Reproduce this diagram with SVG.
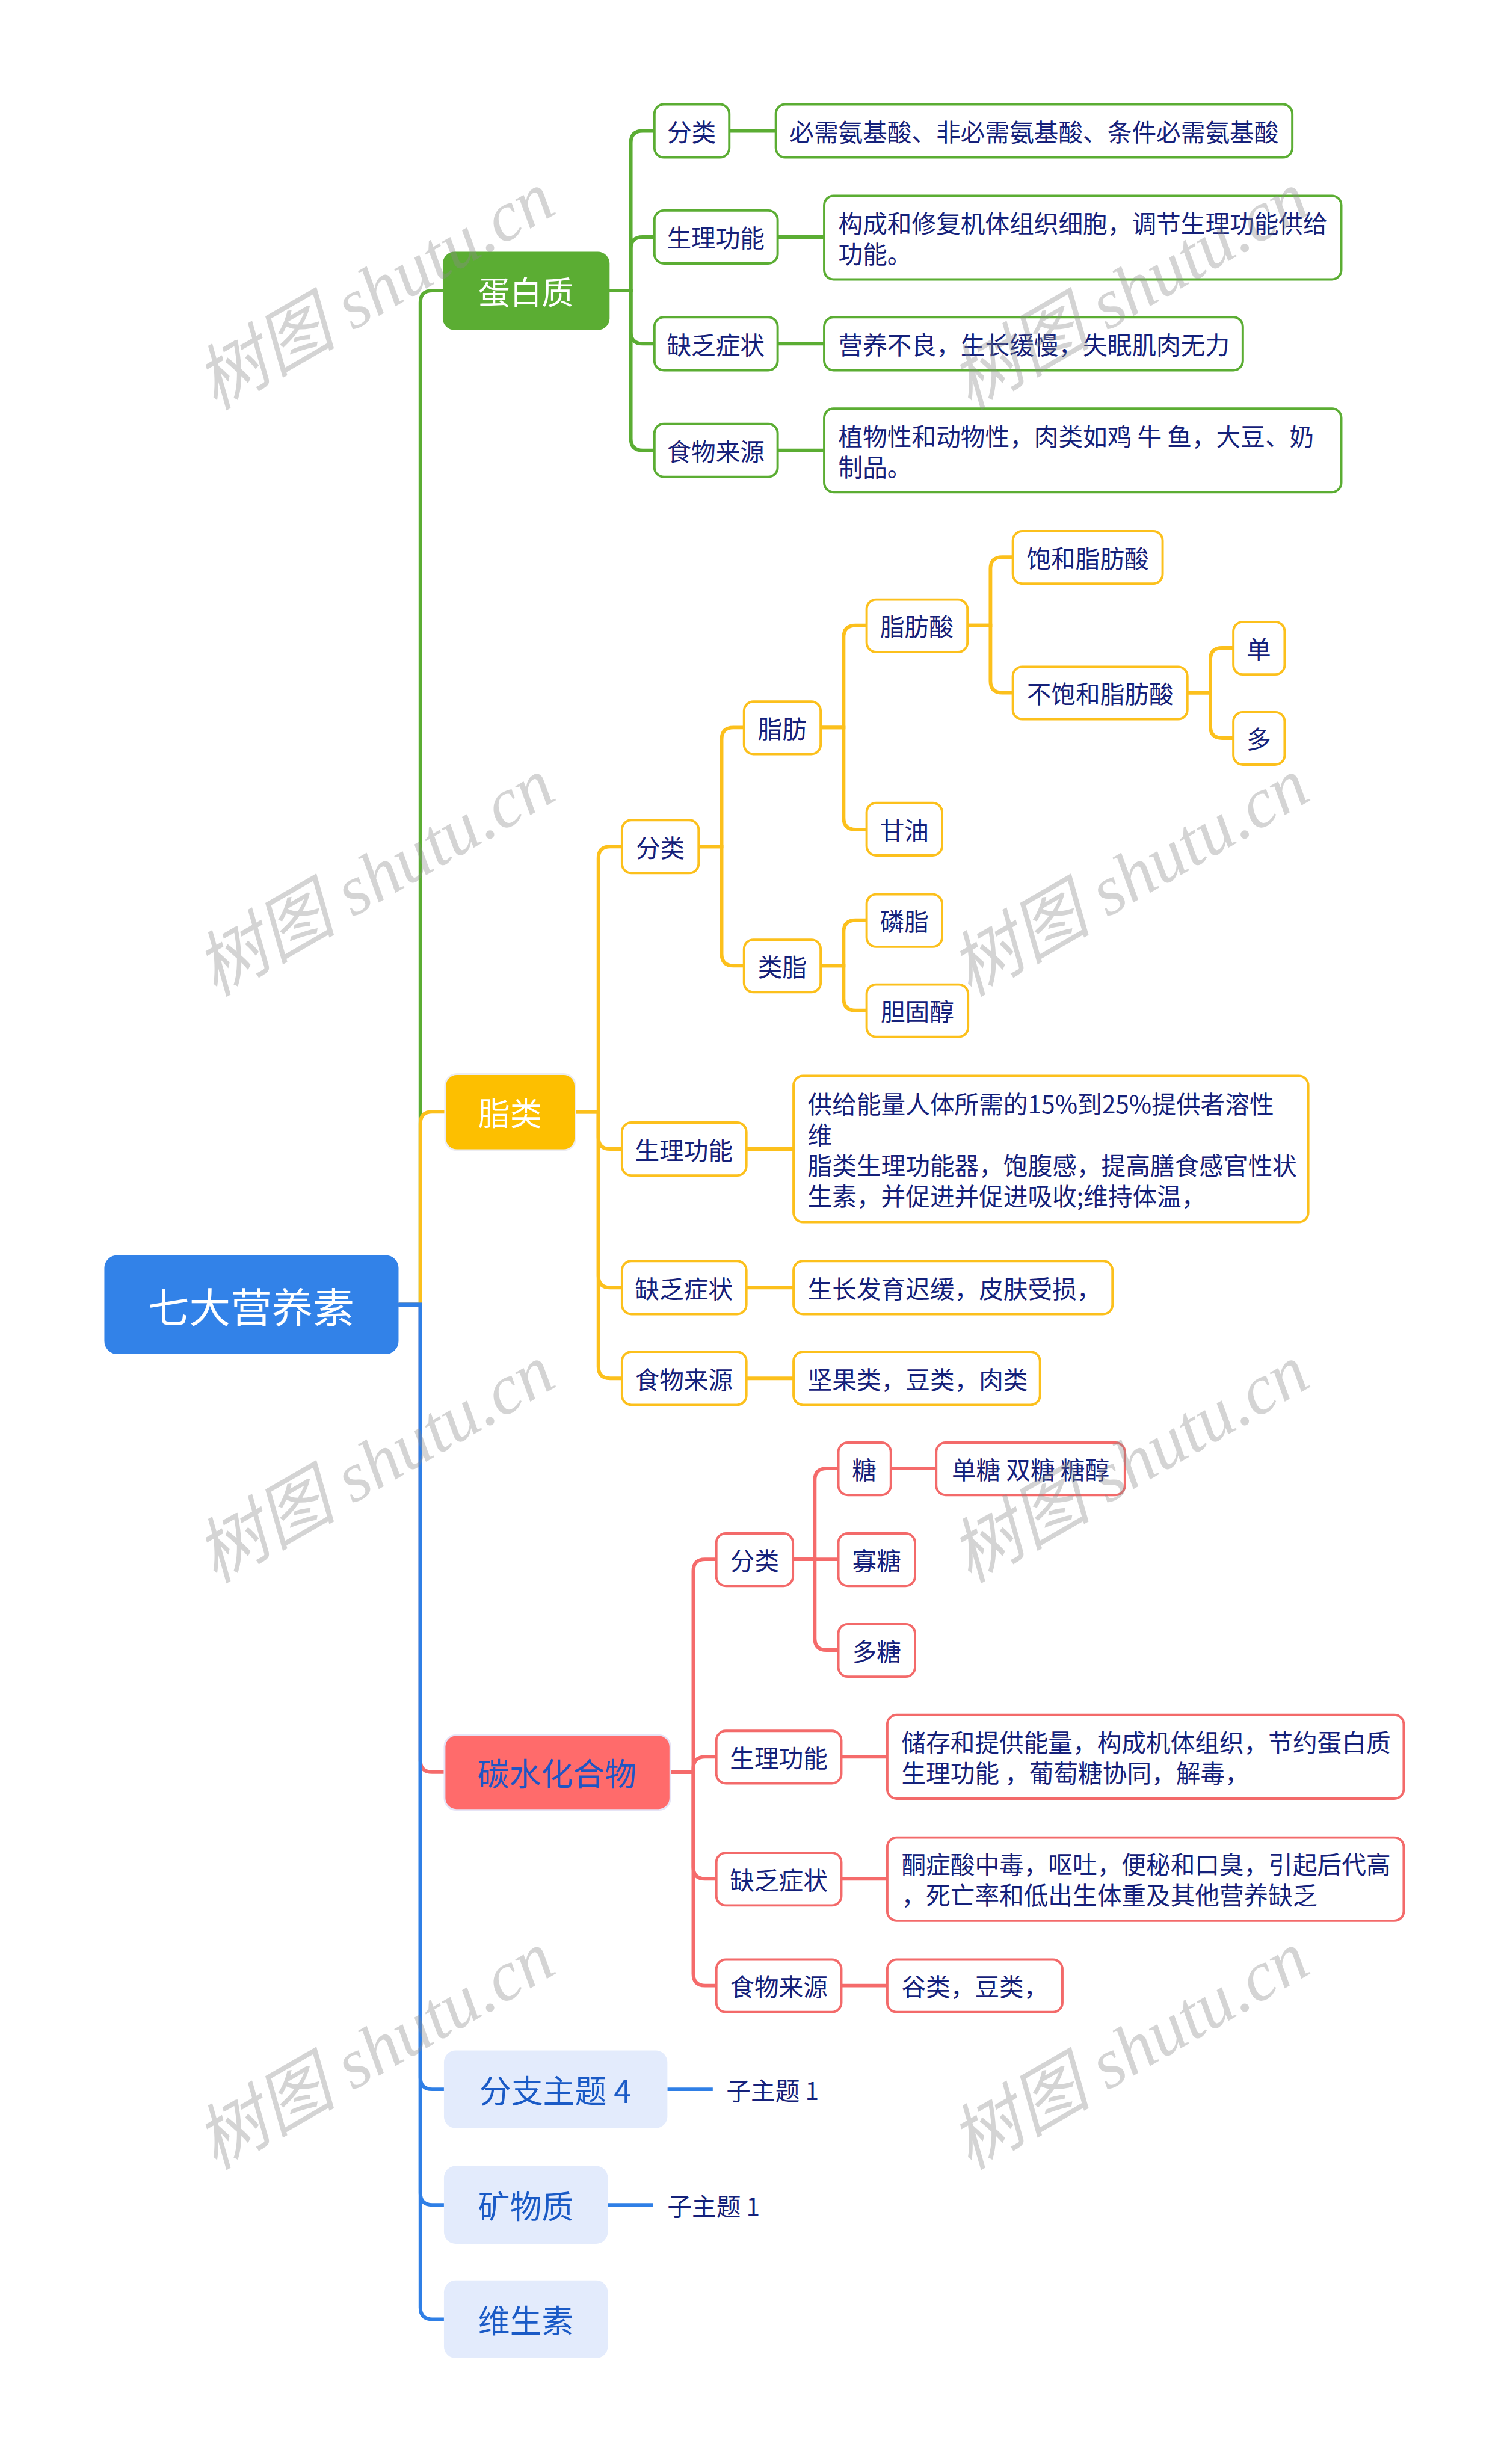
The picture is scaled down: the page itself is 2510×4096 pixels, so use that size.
<svg xmlns="http://www.w3.org/2000/svg" width="2510" height="4096" viewBox="0 0 2510 4096">
<style>
.t{font-family:"Noto Sans CJK SC","Noto Sans",sans-serif;font-size:41.5px;fill:#15217A;dominant-baseline:central}
.m{text-anchor:middle}
.bt{font-family:"Noto Sans CJK SC","Noto Sans",sans-serif;font-size:54px;dominant-baseline:central;text-anchor:middle}
.lg{fill:#fff;stroke:#5BAD33;stroke-width:4}
.ly{fill:#fff;stroke:#FCC01C;stroke-width:4}
.lr{fill:#fff;stroke:#F36A6A;stroke-width:4}
.cg{fill:none;stroke:#5BAD33;stroke-width:6}
.cy{fill:none;stroke:#FCC01C;stroke-width:6}
.cr{fill:none;stroke:#F56B6B;stroke-width:6}
.cb{fill:none;stroke:#2F7FE6;stroke-width:6}
.wm{font-family:"Liberation Serif","Noto Sans CJK SC",serif;font-style:italic;font-size:120px;fill:#8a8a8a;opacity:0.36;text-anchor:middle}
</style>
<rect x="0" y="0" width="2510" height="4096" fill="#ffffff"/>
<g transform="scale(0.98)">
<g id="connectors">
<path class="cg" d="M676 2213 H713 V513 Q713 493 733 493 H751"/>
<path class="cy" d="M676 2213 H713 V1906 Q713 1886 733 1886 H755"/>
<path class="cr" d="M676 2213 H713 V2986 Q713 3006 733 3006 H754"/>
<path class="cb" d="M676 2213 H713 V3524 Q713 3544 733 3544 H753"/>
<path class="cb" d="M676 2213 H713 V3720 Q713 3740 733 3740 H753"/>
<path class="cb" d="M676 2213 H713 V3914 Q713 3934 733 3934 H753"/>
<path class="cg" d="M1034 493 H1070 V242 Q1070 222 1090 222 H1110"/>
<path class="cg" d="M1034 493 H1070 V422 Q1070 402 1090 402 H1110"/>
<path class="cg" d="M1034 493 H1070 V563 Q1070 583 1090 583 H1110"/>
<path class="cg" d="M1034 493 H1070 V744 Q1070 764 1090 764 H1110"/>
<path class="cg" d="M1237 222 H1316"/>
<path class="cg" d="M1319 402 H1398"/>
<path class="cg" d="M1319 583 H1398"/>
<path class="cg" d="M1319 764 H1398"/>
<path class="cy" d="M976 1886 H1015 V1456 Q1015 1436 1035 1436 H1055"/>
<path class="cy" d="M976 1886 H1015 V1929 Q1015 1949 1035 1949 H1055"/>
<path class="cy" d="M976 1886 H1015 V2164 Q1015 2184 1035 2184 H1055"/>
<path class="cy" d="M976 1886 H1015 V2318 Q1015 2338 1035 2338 H1055"/>
<path class="cy" d="M1185 1436 H1224 V1254 Q1224 1234 1244 1234 H1262"/>
<path class="cy" d="M1185 1436 H1224 V1618 Q1224 1638 1244 1638 H1262"/>
<path class="cy" d="M1392 1234 H1431 V1081 Q1431 1061 1451 1061 H1470"/>
<path class="cy" d="M1392 1234 H1431 V1387 Q1431 1407 1451 1407 H1470"/>
<path class="cy" d="M1392 1638 H1431 V1581 Q1431 1561 1451 1561 H1470"/>
<path class="cy" d="M1392 1638 H1431 V1694 Q1431 1714 1451 1714 H1470"/>
<path class="cy" d="M1641 1061 H1680 V965 Q1680 945 1700 945 H1718"/>
<path class="cy" d="M1641 1061 H1680 V1155 Q1680 1175 1700 1175 H1718"/>
<path class="cy" d="M2014 1175 H2053 V1119 Q2053 1099 2073 1099 H2092"/>
<path class="cy" d="M2014 1175 H2053 V1232 Q2053 1252 2073 1252 H2092"/>
<path class="cy" d="M1266 1949 H1346"/>
<path class="cy" d="M1266 2184 H1346"/>
<path class="cy" d="M1266 2338 H1346"/>
<path class="cr" d="M1137 3006 H1176 V2665 Q1176 2645 1196 2645 H1215"/>
<path class="cr" d="M1137 3006 H1176 V3000 Q1176 2980 1196 2980 H1215"/>
<path class="cr" d="M1137 3006 H1176 V3167 Q1176 3187 1196 3187 H1215"/>
<path class="cr" d="M1137 3006 H1176 V3348 Q1176 3368 1196 3368 H1215"/>
<path class="cr" d="M1345 2645 H1382 V2511 Q1382 2491 1402 2491 H1422"/>
<path class="cr" d="M1345 2645 H1422"/>
<path class="cr" d="M1345 2645 H1382 V2779 Q1382 2799 1402 2799 H1422"/>
<path class="cr" d="M1511 2491 H1588"/>
<path class="cr" d="M1427 2980 H1505"/>
<path class="cr" d="M1427 3187 H1505"/>
<path class="cr" d="M1427 3368 H1505"/>
<path class="cb" d="M1132 3544 H1209"/>
<path class="cb" d="M1031 3740 H1108"/>
</g>

<g id="root">
<rect x="177" y="2129" width="499" height="168" rx="22" fill="#3282E8"/>
<text class="bt" x="426" y="2213" style="font-size:70px" fill="#ffffff">七大营养素</text>
</g>

<g id="protein">
<rect x="751" y="427" width="283" height="133" rx="20" fill="#5BAD33"/>
<text class="bt" x="892" y="493" fill="#ffffff">蛋白质</text>
</g>
<g id="p-fenlei"><rect class="lg" x="1110" y="177" width="127" height="90" rx="16"/><text class="t m" x="1173" y="222">分类</text></g>
<g id="p-fenlei-t"><rect class="lg" x="1316" y="177" width="876" height="90" rx="16"/><text class="t" x="1339" y="222">必需氨基酸、非必需氨基酸、条件必需氨基酸</text></g>
<g id="p-shengli"><rect class="lg" x="1110" y="357" width="209" height="90" rx="16"/><text class="t m" x="1214" y="402">生理功能</text></g>
<g id="p-shengli-t"><rect class="lg" x="1398" y="332" width="877" height="142" rx="16"/><text class="t" x="1422" y="377">构成和修复机体组织细胞，调节生理功能供给</text><text class="t" x="1422" y="429">功能。</text></g>
<g id="p-quefa"><rect class="lg" x="1110" y="538" width="209" height="90" rx="16"/><text class="t m" x="1214" y="583">缺乏症状</text></g>
<g id="p-quefa-t"><rect class="lg" x="1398" y="538" width="710" height="90" rx="16"/><text class="t" x="1422" y="583">营养不良，生长缓慢，失眠肌肉无力</text></g>
<g id="p-shiwu"><rect class="lg" x="1110" y="719" width="209" height="90" rx="16"/><text class="t m" x="1214" y="764">食物来源</text></g>
<g id="p-shiwu-t"><rect class="lg" x="1398" y="693" width="877" height="142" rx="16"/><text class="t" x="1422" y="738">植物性和动物性，肉类如鸡 牛 鱼，大豆、奶</text><text class="t" x="1422" y="790">制品。</text></g>

<g id="fat">
<rect x="755" y="1822" width="221" height="129" rx="20" fill="#FDBF00" stroke="#ececf2" stroke-width="3"/>
<text class="bt" x="865" y="1886" fill="#ffffff">脂类</text>
</g>
<g id="f-fenlei"><rect class="ly" x="1055" y="1391" width="130" height="90" rx="16"/><text class="t m" x="1120" y="1436">分类</text></g>
<g id="f-zhifang"><rect class="ly" x="1262" y="1190" width="130" height="89" rx="16"/><text class="t m" x="1327" y="1234">脂肪</text></g>
<g id="f-leizhi"><rect class="ly" x="1262" y="1594" width="130" height="89" rx="16"/><text class="t m" x="1327" y="1638">类脂</text></g>
<g id="f-zhifangsuan"><rect class="ly" x="1470" y="1017" width="171" height="89" rx="16"/><text class="t m" x="1555" y="1061">脂肪酸</text></g>
<g id="f-ganyou"><rect class="ly" x="1470" y="1362" width="128" height="89" rx="16"/><text class="t m" x="1534" y="1407">甘油</text></g>
<g id="f-linzhi"><rect class="ly" x="1470" y="1517" width="128" height="89" rx="16"/><text class="t m" x="1534" y="1561">磷脂</text></g>
<g id="f-danguchun"><rect class="ly" x="1470" y="1670" width="172" height="89" rx="16"/><text class="t m" x="1556" y="1714">胆固醇</text></g>
<g id="f-baohe"><rect class="ly" x="1718" y="901" width="254" height="89" rx="16"/><text class="t m" x="1845" y="945">饱和脂肪酸</text></g>
<g id="f-bubaohe"><rect class="ly" x="1718" y="1131" width="296" height="89" rx="16"/><text class="t m" x="1866" y="1175">不饱和脂肪酸</text></g>
<g id="f-dan"><rect class="ly" x="2092" y="1055" width="87" height="89" rx="16"/><text class="t m" x="2135" y="1099">单</text></g>
<g id="f-duo"><rect class="ly" x="2092" y="1208" width="87" height="89" rx="16"/><text class="t m" x="2135" y="1252">多</text></g>
<g id="f-shengli"><rect class="ly" x="1055" y="1904" width="211" height="90" rx="16"/><text class="t m" x="1160" y="1949">生理功能</text></g>
<g id="f-shengli-t"><rect class="ly" x="1346" y="1825" width="873" height="248" rx="16"/><text class="t" x="1370" y="1871">供给能量人体所需的15%到25%提供者溶性</text><text class="t" x="1370" y="1923">维</text><text class="t" x="1370" y="1975">脂类生理功能器，饱腹感，提高膳食感官性状</text><text class="t" x="1370" y="2027">生素，并促进并促进吸收;维持体温，</text></g>
<g id="f-quefa"><rect class="ly" x="1055" y="2139" width="211" height="90" rx="16"/><text class="t m" x="1160" y="2184">缺乏症状</text></g>
<g id="f-quefa-t"><rect class="ly" x="1346" y="2139" width="541" height="90" rx="16"/><text class="t" x="1370" y="2184">生长发育迟缓，皮肤受损，</text></g>
<g id="f-shiwu"><rect class="ly" x="1055" y="2293" width="211" height="90" rx="16"/><text class="t m" x="1160" y="2338">食物来源</text></g>
<g id="f-shiwu-t"><rect class="ly" x="1346" y="2293" width="418" height="90" rx="16"/><text class="t" x="1370" y="2338">坚果类，豆类，肉类</text></g>

<g id="carb">
<rect x="754" y="2943" width="383" height="127" rx="20" fill="#FF6B6B" stroke="#e6e4f6" stroke-width="3"/>
<text class="bt" x="945" y="3006" fill="#1F55C4">碳水化合物</text>
</g>
<g id="c-fenlei"><rect class="lr" x="1215" y="2601" width="130" height="89" rx="16"/><text class="t m" x="1280" y="2645">分类</text></g>
<g id="c-tang"><rect class="lr" x="1422" y="2447" width="89" height="89" rx="16"/><text class="t m" x="1466" y="2491">糖</text></g>
<g id="c-tang-t"><rect class="lr" x="1588" y="2447" width="320" height="89" rx="16"/><text class="t m" x="1748" y="2491">单糖 双糖 糖醇</text></g>
<g id="c-guatang"><rect class="lr" x="1422" y="2601" width="130" height="89" rx="16"/><text class="t m" x="1487" y="2645">寡糖</text></g>
<g id="c-duotang"><rect class="lr" x="1422" y="2755" width="130" height="89" rx="16"/><text class="t m" x="1487" y="2799">多糖</text></g>
<g id="c-shengli"><rect class="lr" x="1215" y="2936" width="212" height="89" rx="16"/><text class="t m" x="1321" y="2980">生理功能</text></g>
<g id="c-shengli-t"><rect class="lr" x="1505" y="2909" width="876" height="142" rx="16"/><text class="t" x="1529" y="2954">储存和提供能量，构成机体组织，节约蛋白质</text><text class="t" x="1529" y="3006">生理功能 ，葡萄糖协同，解毒，</text></g>
<g id="c-quefa"><rect class="lr" x="1215" y="3143" width="212" height="89" rx="16"/><text class="t m" x="1321" y="3187">缺乏症状</text></g>
<g id="c-quefa-t"><rect class="lr" x="1505" y="3117" width="876" height="141" rx="16"/><text class="t" x="1529" y="3161">酮症酸中毒，呕吐，便秘和口臭，引起后代高</text><text class="t" x="1529" y="3213">，死亡率和低出生体重及其他营养缺乏</text></g>
<g id="c-shiwu"><rect class="lr" x="1215" y="3324" width="212" height="89" rx="16"/><text class="t m" x="1321" y="3368">食物来源</text></g>
<g id="c-shiwu-t"><rect class="lr" x="1505" y="3324" width="297" height="89" rx="16"/><text class="t" x="1529" y="3368">谷类，豆类，</text></g>

<g id="branch4">
<rect x="753" y="3478" width="379" height="132" rx="20" fill="#E3EBFC"/>
<text class="bt" x="942" y="3544" fill="#1A5AC6">分支主题 4</text>
</g>
<g id="branch4-sub"><text class="t" x="1232" y="3544">子主题 1</text></g>
<g id="kuangwu">
<rect x="753" y="3674" width="278" height="132" rx="20" fill="#E3EBFC"/>
<text class="bt" x="892" y="3740" fill="#1A5AC6">矿物质</text>
</g>
<g id="kuangwu-sub"><text class="t" x="1132" y="3740">子主题 1</text></g>
<g id="weisheng">
<rect x="753" y="3868" width="278" height="132" rx="20" fill="#E3EBFC"/>
<text class="bt" x="892" y="3934" fill="#1A5AC6">维生素</text>
</g>

<g id="watermarks">
<text class="wm" x="656" y="528" transform="rotate(-30 656 528)">树图 shutu.cn</text>
<text class="wm" x="1936" y="528" transform="rotate(-30 1936 528)">树图 shutu.cn</text>
<text class="wm" x="656" y="1523" transform="rotate(-30 656 1523)">树图 shutu.cn</text>
<text class="wm" x="1936" y="1523" transform="rotate(-30 1936 1523)">树图 shutu.cn</text>
<text class="wm" x="656" y="2518" transform="rotate(-30 656 2518)">树图 shutu.cn</text>
<text class="wm" x="1936" y="2518" transform="rotate(-30 1936 2518)">树图 shutu.cn</text>
<text class="wm" x="656" y="3513" transform="rotate(-30 656 3513)">树图 shutu.cn</text>
<text class="wm" x="1936" y="3513" transform="rotate(-30 1936 3513)">树图 shutu.cn</text>
</g>
</g>
</svg>
